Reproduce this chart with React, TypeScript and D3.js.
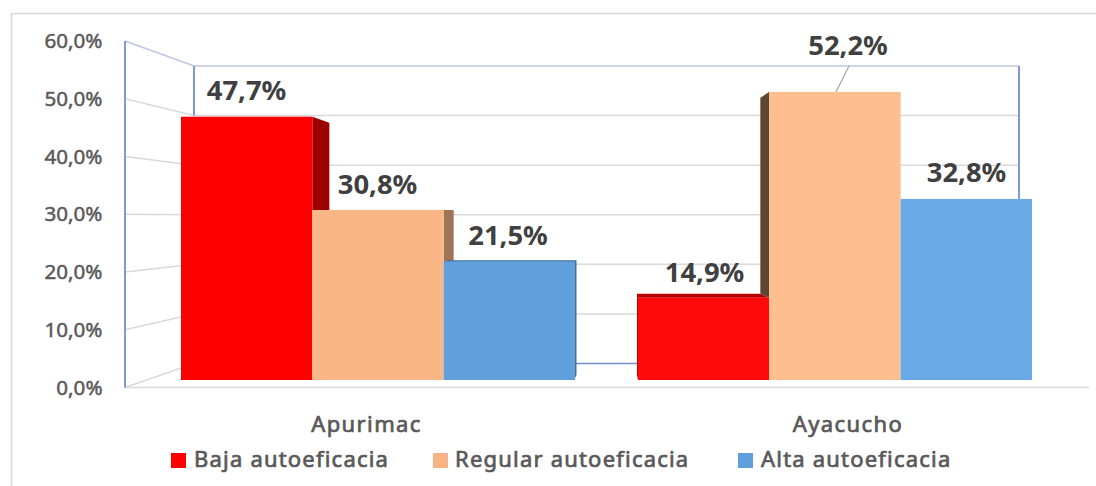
import React from "react";
import * as d3 from "d3";

const categories = ["Apurimac", "Ayacucho"];
const seriesNames = ["Baja autoeficacia", "Regular autoeficacia", "Alta autoeficacia"];
const baja = [47.7, 14.9];
const regular = [30.8, 52.2];
const alta = [21.5, 32.8];
const labelsBaja = ["47,7%", "14,9%"];
const labelsRegular = ["30,8%", "52,2%"];
const labelsAlta = ["21,5%", "32,8%"];
const ticks = [0, 10, 20, 30, 40, 50, 60];
const tickLabels = ["0,0%", "10,0%", "20,0%", "30,0%", "40,0%", "50,0%", "60,0%"];

const FONT = "'Noto Sans', 'Open Sans', sans-serif";
const legendColors = ["#ff0000", "#f8b384", "#5f9fdb"];
const frontColors = [
  ["#ff0000", "#fbb688", "#619fdc"],
  ["#ff0a0a", "#fdbf8f", "#69a9e5"],
];

const yFront = d3.scaleLinear().domain([0, 60]).range([387.5, 41]);
const yBack = d3.scaleLinear().domain([0, 60]).range([363.5, 66]);
const yBar = d3.scaleLinear().domain([0, 60]).range([380, 48.8]);
const xGroup = d3.scaleBand<string>().domain(categories).range([181, 1032]).paddingInner(63 / 457);
const xSeries = d3.scaleBand<number>().domain([0, 1, 2]);

const line = d3.line();

export default function App() {
  xSeries.range([0, xGroup.bandwidth()]);
  const w = xSeries.bandwidth();
  const x = (g: number, s: number) => xGroup(categories[g])! + xSeries(s)!;
  const y0 = yBar(0);
  const data = [baja, regular, alta];

  return (
    <svg width={1096} height={486} style={{ position: "fixed", left: 0, top: 0, background: "#fff" }}>
      {/* picture frame */}
      <path d="M1096 13.5H11.5V486" fill="none" stroke="#d9d9d9" strokeWidth={1.6} />

      {/* gridlines: side wall and back wall */}
      {ticks.slice(1, 6).map((t) => (
        <g key={t} stroke="#d9d9d9" strokeWidth={1.5} fill="none">
          <path d={line([[125, yFront(t)], [194, yBack(t)], [1019, yBack(t)]])!} />
        </g>
      ))}
      <path d={line([[125, yFront(0)], [194, yBack(0)]])!} stroke="#d9d9d9" strokeWidth={1.5} fill="none" />
      <path d={line([[125, yFront(60)], [194, yBack(60)], [1019, yBack(60)]])!} stroke="#bcc8e2" strokeWidth={1.5} fill="none" />
      <path d={line([[194, yBack(60)], [194, yBack(50)]])!} stroke="#6f8fd0" strokeWidth={1.8} />
      <path d={line([[1019, yBack(60)], [1019, yBack(33)]])!} stroke="#6f8fd0" strokeWidth={1.8} />
      <path d={line([[576, yBack(0)], [640, yBack(0)]])!} stroke="#6f8fd0" strokeWidth={1.5} />

      {/* floor and axis */}
      <path d={line([[125, yFront(0)], [1089, yFront(0)]])!} stroke="#d9d9d9" strokeWidth={1.5} />
      <path d={line([[125, yFront(60)], [125, yFront(0)]])!} stroke="#6f8fd3" strokeWidth={1.8} />

      {/* leader */}
      <path d={line([[836, 92], [849, 66]])!} stroke="#a6a6a6" strokeWidth={1.2} />

      {/* 3D faces of the bars */}
      <path d={line([[x(0, 1), yBar(baja[0])], [x(0, 1) + 17, yBar(baja[0]) + 6], [x(0, 1) + 17, yBar(regular[0])], [x(0, 1), yBar(regular[0])]])!} fill="#9c0000" />
      <path d={line([[x(0, 2), yBar(regular[0])], [x(0, 2) + 10, yBar(regular[0])], [x(0, 2) + 10, yBar(alta[0]) - 1], [x(0, 2), yBar(alta[0]) + 2]])!} fill="#9f7555" />
      <path d={line([[x(0, 2), yBar(alta[0]) + 2], [x(0, 2) + 4, yBar(alta[0]) - 1], [x(0, 2) + w + 1.5, yBar(alta[0]) - 1], [x(0, 2) + w + 1.5, y0 - 5], [x(0, 2) + w - 1, y0], [x(0, 2) + w - 1, yBar(alta[0]) + 2]])!} fill="#3f6f9f" />
      <path d={line([[x(1, 0) - 1, yBar(baja[1]) - 4], [x(1, 1) - 9, yBar(baja[1]) - 4], [x(1, 1), yBar(baja[1])], [x(1, 0), yBar(baja[1])], [x(1, 0), y0], [x(1, 0) - 1, y0 - 5]])!} fill="#b80000" />
      <path d={line([[x(1, 1) - 9, yBar(regular[1]) + 6], [x(1, 1), yBar(regular[1])], [x(1, 1), yBar(baja[1])], [x(1, 1) - 9, yBar(baja[1]) - 4]])!} fill="#5f4632" />

      {/* front faces */}
      {categories.map((c, g) =>
        data.map((vals, s) => (
          <rect key={c + s} x={x(g, s)} y={yBar(vals[g])} width={w} height={y0 - yBar(vals[g])} fill={frontColors[g][s]} />
        ))
      )}

      {/* tick labels */}
      {ticks.map((t, i) => (
        <text key={t} x={102.5} y={yFront(t) + 7} textAnchor="end" fontFamily={FONT} fontSize={20.6} fill="#595959" stroke="#595959" strokeWidth={0.5}>
          {tickLabels[i]}
        </text>
      ))}

      {/* data labels */}
      {[
        [labelsBaja[0], 246.5, 100],
        [labelsRegular[0], 377.5, 194],
        [labelsAlta[0], 508, 245],
        [labelsBaja[1], 704.5, 282],
        [labelsRegular[1], 848, 55],
        [labelsAlta[1], 966.5, 182],
      ].map(([t, lx, ly]) => (
        <text key={t as string} x={lx as number} y={ly as number} textAnchor="middle" fontFamily={FONT} fontSize={27.4} fontWeight={700} fill="#404040">
          {t}
        </text>
      ))}

      {/* categories */}
      {categories.map((c, i) => (
        <text key={c} x={[366.5, 848][i]} y={432} textAnchor="middle" fontFamily={FONT} fontSize={22} fill="#595959" stroke="#595959" strokeWidth={0.7} letterSpacing={1.4}>
          {c}
        </text>
      ))}

      {/* legend */}
      {seriesNames.map((n, i) => (
        <g key={n}>
          <rect x={[171, 433, 738][i]} y={453} width={15} height={15} fill={legendColors[i]} />
          <text x={[194, 455, 761][i]} y={467} fontFamily={FONT} fontSize={22} fill="#595959" stroke="#595959" strokeWidth={0.7} letterSpacing={1.2}>
            {n}
          </text>
        </g>
      ))}
    </svg>
  );
}
